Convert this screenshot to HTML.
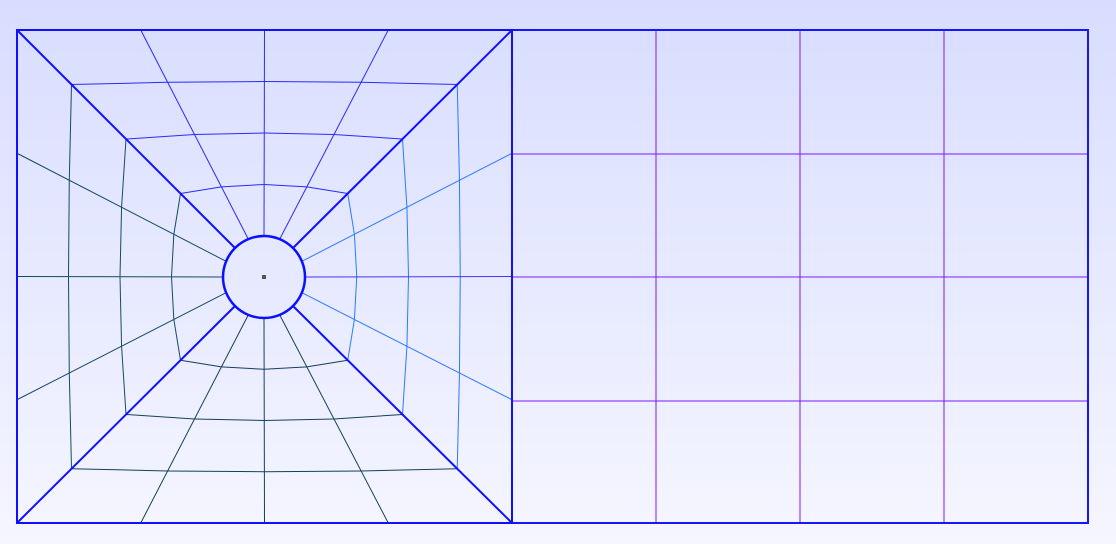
<!DOCTYPE html>
<html><head><meta charset="utf-8"><style>
html,body{margin:0;padding:0;width:1116px;height:544px;overflow:hidden}
body{background:linear-gradient(#d8ddff,#f5f6ff)}
svg{position:absolute;left:0;top:0}
</style></head><body>
<svg id="mesh" width="1116" height="544" viewBox="0 0 1116 544"></svg>
<script>
// block geometry (data)
const leftBlock=[17,30,512,523];
const rightBlock=[512,30,1088,523];
const holeCenter=[264,277];
const holeRadius=41;
const ringFractions=[0.25,0.5,0.75];
const rightCols=[656,800,944];
const rightRows=[154,277,401];
const NS='http://www.w3.org/2000/svg';
const svg=document.getElementById('mesh');
function el(tag,attrs,name){const e=document.createElementNS(NS,tag);for(const k in attrs)e.setAttribute(k,attrs[k]);


svg.appendChild(e);return e;}
const [x0,y0,x1,y1]=leftBlock,[cx,cy]=holeCenter;
const mx=(x0+x1)/2,my=(y0+y1)/2,qx1=(x0+mx)/2,qx2=(mx+x1)/2,qy1=(y0+my)/2,qy2=(my+y1)/2;
const bnd=[[x0,y0],[qx1,y0],[mx,y0],[qx2,y0],[x1,y0],[x1,qy1],[x1,my],[x1,qy2],[x1,y1],[qx2,y1],[mx,y1],[qx1,y1],[x0,y1],[x0,qy2],[x0,my],[x0,qy1]];
const circ=bnd.map((p,i)=>{const a=(-135+i*22.5)*Math.PI/180;return[cx+holeRadius*Math.cos(a),cy+holeRadius*Math.sin(a)];});
function colorFor(i){if(i%4===0)return'#1010ff';if(i===6)return'#4a30ff';if(i>0&&i<4)return'#2a2aff';if(i>4&&i<8)return'#2a7aff';if(i>8&&i<12)return'#14405a';return'#164a66';}
ringFractions.forEach((f,r)=>{
  const pts=bnd.map((b,i)=>[b[0]+(circ[i][0]-b[0])*f,b[1]+(circ[i][1]-b[1])*f]);
  for(let i=0;i<16;i++){const a=pts[i],b=pts[(i+1)%16];
    const seg=Math.floor(i/4);const col=['#2a2aff','#2a7aff','#14405a','#164a66'][seg];
    el('line',{x1:a[0],y1:a[1],x2:b[0],y2:b[1],stroke:col,'stroke-width':1},'ring-'+r+'-edge');}
});
bnd.forEach((b,i)=>{el('line',{x1:b[0],y1:b[1],x2:circ[i][0],y2:circ[i][1],stroke:colorFor(i),'stroke-width':i%4===0?2:1},i%4===0?'diagonal-edge':'radial-edge');});
el('circle',{cx:cx,cy:cy,r:holeRadius,fill:'none',stroke:'#0a10ff','stroke-width':2.5},'hole-circle');
el('rect',{x:cx-2,y:cy-2,width:4,height:4,fill:'#555'},'hole-center-point');
const [rx0,ry0,rx1,ry1]=rightBlock;
rightCols.forEach(x=>el('line',{x1:x,y1:ry0,x2:x,y2:ry1,stroke:'#7a1aff','stroke-width':1},'grid-column-line'));
rightRows.forEach(y=>el('line',{x1:rx0,y1:y,x2:rx1,y2:y,stroke:'#7a1aff','stroke-width':1},'grid-row-line'));
el('rect',{x:rx0,y:ry0,width:rx1-rx0,height:ry1-ry0,fill:'none',stroke:'#1515ff','stroke-width':2},'right-block-border');
el('rect',{x:x0,y:y0,width:x1-x0,height:y1-y0,fill:'none',stroke:'#1010ff','stroke-width':2},'left-block-border');
</script>
</body></html>
